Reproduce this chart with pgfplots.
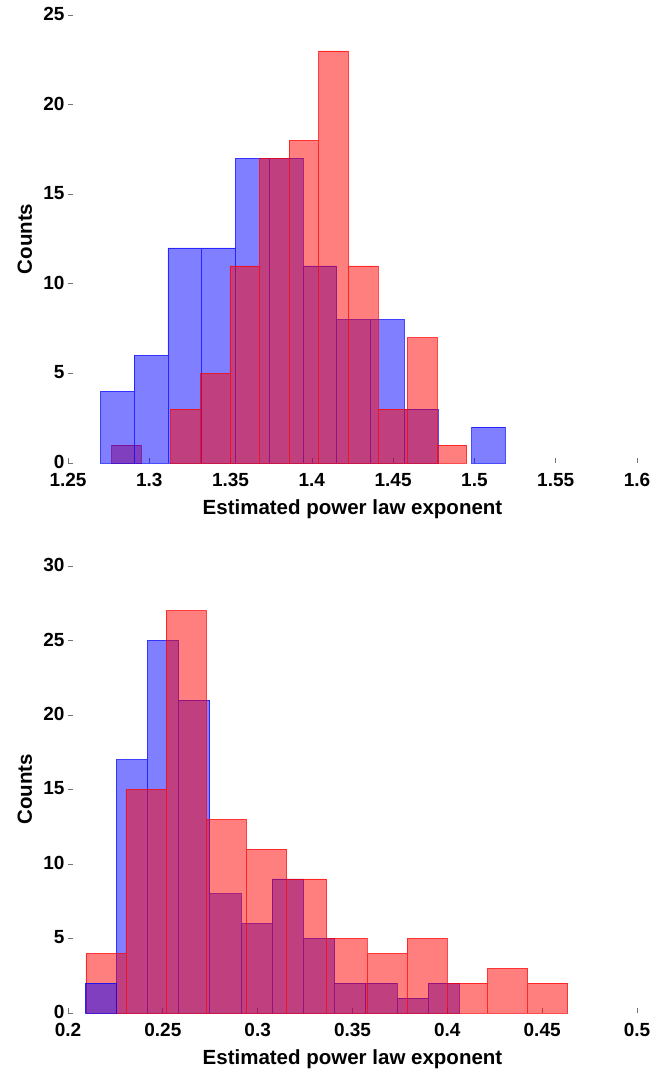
\documentclass[border=0pt]{standalone}
\usepackage{pgfplots}
\pgfplotsset{compat=1.18}
\usepackage{fontspec}
\setmainfont{Liberation Sans}
\pgfplotsset{
  histaxis/.style={
    scale only axis,
    width=569pt,
    axis lines*=left,
    axis line style={draw=none},
    tick align=inside,
    major tick length=5pt,
    xtick pos=bottom, ytick pos=left,
    major tick style={draw=black!55, line width=0.7pt},
    /pgf/number format/assume math mode=true,
    tick label style={font=\fontsize{19}{22}\selectfont\bfseries},
    xticklabel style={yshift=-7pt},
    yticklabel style={yshift=1pt},
    xlabel={Estimated power law exponent},
    ylabel={Counts},
    every axis x label/.style={at={(axis description cs:0.5,-0.104)}, anchor=center, font=\fontsize{20.5}{24}\selectfont\bfseries},
    every axis y label/.style={at={(axis description cs:-0.076,0.5)}, anchor=center, rotate=90, font=\fontsize{20.5}{24}\selectfont\bfseries},
    clip=false,
  },
  bl/.style={ybar interval, fill=blue, draw=blue, fill opacity=0.5, draw opacity=0.7, line width=0.6pt},
  rd/.style={ybar interval, fill=red, draw=red, fill opacity=0.5, draw opacity=0.7, line width=0.6pt},
}
\begin{document}
\begin{tikzpicture}
\useasboundingbox (0pt,0pt) rectangle (667pt,1069pt);
% ---------- top ----------
\begin{axis}[histaxis, at={(68pt,606pt)}, anchor=south west, height=448pt,
  xmin=1.25, xmax=1.6, ymin=0, ymax=25,
  xtick={1.25,1.3,1.35,1.4,1.45,1.5,1.55,1.6},
  xticklabels={1.25,1.3,1.35,1.4,1.45,1.5,1.55,1.6},
  ytick={0,5,10,15,20,25}]
\addplot[rd] coordinates {(1.2768,1) (1.2950,0)};
\addplot[bl] coordinates {
(1.27000,4) (1.29075,6) (1.31150,12) (1.33225,12) (1.35300,17) (1.37375,17)
(1.39450,11) (1.41525,8) (1.43600,8) (1.45675,3) (1.47750,0)};
\addplot[bl] coordinates {(1.49825,2) (1.51900,0)};
\addplot[rd] coordinates {
(1.3132,3) (1.3314,5) (1.3496,11) (1.3678,17) (1.3860,18) (1.4042,23)
(1.4224,11) (1.4406,3) (1.4588,7) (1.4770,1) (1.4952,0)};
\end{axis}
% ---------- bottom ----------
\begin{axis}[histaxis, at={(68pt,56pt)}, anchor=south west, height=447pt,
  xmin=0.2, xmax=0.5, ymin=0, ymax=30,
  xtick={0.2,0.25,0.3,0.35,0.4,0.45,0.5},
  xticklabels={0.2,0.25,0.3,0.35,0.4,0.45,0.5},
  ytick={0,5,10,15,20,25,30}]
\addplot[bl] coordinates {
(0.22544,17) (0.24188,25) (0.25832,21) (0.27476,8) (0.29120,6) (0.30764,9)
(0.32408,5) (0.34052,2) (0.35696,2) (0.37340,1) (0.38984,2) (0.40628,0)};
\addplot[rd] coordinates {
(0.20940,4) (0.23057,15) (0.25174,27) (0.27291,13) (0.29408,11) (0.31525,9)
(0.33642,5) (0.35759,4) (0.37876,5) (0.39993,2) (0.42110,3) (0.44227,2) (0.46344,0)};
\addplot[bl] coordinates {(0.20900,2) (0.22544,0)};
\end{axis}
\end{tikzpicture}
\end{document}
